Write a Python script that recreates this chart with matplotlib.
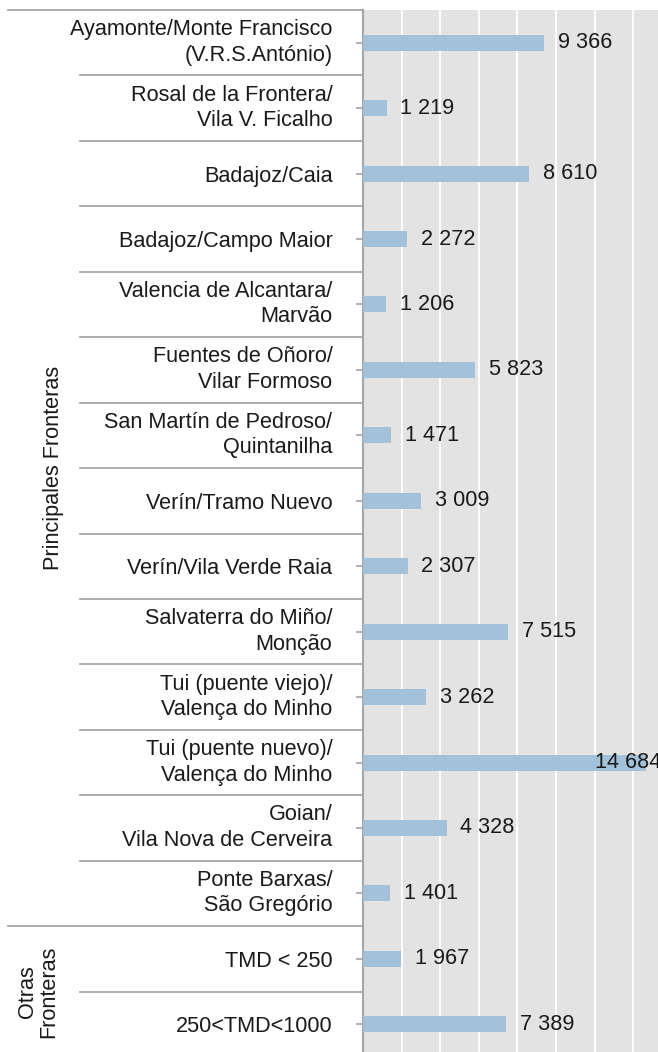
import matplotlib
matplotlib.use('Agg')
import matplotlib.pyplot as plt
import matplotlib.transforms as mtransforms

plt.rcParams['font.family'] = ['Liberation Sans', 'DejaVu Sans']

labels = [
    'Ayamonte/Monte Francisco\n(V.R.S.António)',
    'Rosal de la Frontera/\nVila V. Ficalho',
    'Badajoz/Caia',
    'Badajoz/Campo Maior',
    'Valencia de Alcantara/\nMarvão',
    'Fuentes de Oñoro/\nVilar Formoso',
    'San Martín de Pedroso/\nQuintanilha',
    'Verín/Tramo Nuevo',
    'Verín/Vila Verde Raia',
    'Salvaterra do Miño/\nMonção',
    'Tui (puente viejo)/\nValença do Minho',
    'Tui (puente nuevo)/\nValença do Minho',
    'Goian/\nVila Nova de Cerveira',
    'Ponte Barxas/\nSão Gregório',
    'TMD < 250',
    '250<TMD<1000',
]
values = [9366, 1219, 8610, 2272, 1206, 5823, 1471, 3009, 2307, 7515, 3262, 14684, 4328, 1401, 1967, 7389]
groups = ['Principales Fronteras', 'Otras\nFronteras']
group_sizes = [14, 2]

W, H = 658, 1052
fig = plt.figure(figsize=(W / 100, H / 100), dpi=100)
ax = fig.add_axes([363 / W, -5 / H, 1 - 363 / W, (1052 - 10 + 5) / H])

bar_color = '#a3c1d8'
txt_color = '#1a1a1a'
line_color = '#a6a6a6'
fs = 15.6
xmax = 15285

ypos = list(range(len(values)))
ax.barh(ypos, values, height=0.245, color=bar_color, zorder=3)
ax.set_xlim(0, xmax)
ax.set_ylim(len(values) - 0.5, -0.5)
ax.set_facecolor('#e3e3e3')
ax.set_xticks(range(0, 16000, 2000))
ax.grid(axis='x', color='white', linewidth=1.3, zorder=1)
ax.tick_params(axis='x', length=0, labelbottom=False)

ax.set_yticks(ypos)
ax.set_yticklabels(labels, fontsize=fs, color=txt_color, linespacing=1.28)
ax.tick_params(axis='y', length=5, color=line_color, width=1.2, pad=17)
# two-line labels sit a little above their tick
up = mtransforms.ScaledTranslation(0, 5 / 100, fig.dpi_scale_trans)
for lab in ax.get_yticklabels():
    if '\n' in lab.get_text():
        lab.set_transform(lab.get_transform() + up)

for s in ['top', 'right', 'bottom']:
    ax.spines[s].set_visible(False)
ax.spines['left'].set_color(line_color)
ax.spines['left'].set_linewidth(1.5)

for y, v in zip(ypos, values):
    # the longest bar gets its label pulled back over the bar end
    x = v + 720 if v + 720 < 0.8 * xmax else v - 2660
    ax.text(x, y, f'{v:,}'.replace(',', ' '), va='center', ha='left',
            fontsize=fs, color=txt_color, zorder=4)

# separators between categories, drawn out to the label column
trans = mtransforms.blended_transform_factory(fig.transFigure, ax.transData)
starts = []
acc = 0
for n in group_sizes:
    starts.append(acc)
    acc += n
for k in range(len(values)):
    x0 = 8 / W if k in starts else 80 / W
    ax.plot([x0, 363 / W], [k - 0.5, k - 0.5], transform=trans, color=line_color,
            linewidth=1.3, clip_on=False, zorder=5)

# group labels
xg = [54 / W, 38 / W]
for g, st, n, x in zip(groups, starts, group_sizes, xg):
    ax.text(x, st + (n - 1) / 2, g, transform=trans, rotation=90, ha='center',
            va='center', fontsize=fs, color=txt_color, linespacing=1.05)

fig.savefig('out.png', dpi=100)
